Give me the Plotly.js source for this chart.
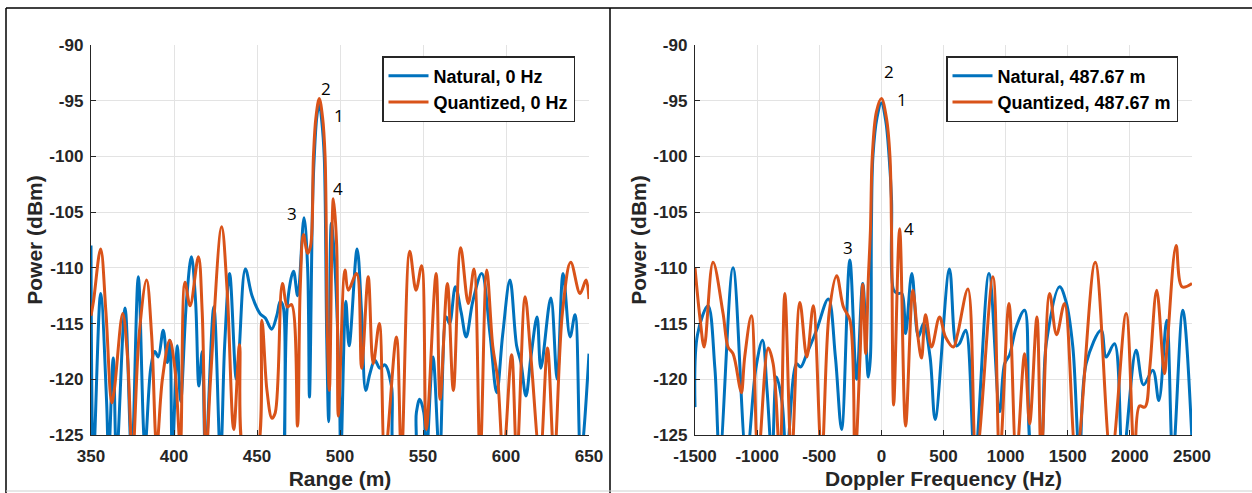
<!DOCTYPE html>
<html>
<head>
<meta charset="utf-8">
<script src="https://cdn.plot.ly/plotly-3.0.1.min.js"></script>
<style>html,body{margin:0;padding:0;background:#fff;}#chart{width:1252px;height:493px;}</style>
</head>
<body>
<div id="chart"></div>
<script>
// ---- Left panel: Power vs Range (0 Hz Doppler) ----
const rangeTicks = [350, 400, 450, 500, 550, 600, 650];
const powerTicks = [-90, -95, -100, -105, -110, -115, -120, -125];

const rangeNatX = [350,351.5,355.8,359.4,360.6,363.4,365.4,370.5,374.5,378.5,382.5,386,388.5,390.5,393.5,396,397.5,399,402,404,407.5,410.5,413,415,417,419,424,428,430.5,433.5,437.5,439,443,447,451.8,455,458.8,461.9,464,465.8,466.5,468.5,472,474.5,478.3,480.5,481.6,483.5,484.5,486,487.5,489,490.5,492,493.2,494.8,497,499.6,500.5,503.5,505.5,510.3,513,515.5,518,521,524,527,531,534,544,546,548,550.5,552,556,560,564,566,569.5,573,576,580,585.4,590.4,594.4,598,602.4,606.4,609,612,615,618.7,621,627,630.8,634.4,638.6,641.6,645,650];
const rangeNatY = [-108,-127,-112.3,-122,-127,-118.1,-127,-113.6,-127,-110.8,-126,-119,-117.5,-118,-115.6,-118.5,-116.5,-127,-117,-122,-113,-109,-113,-120.6,-117.5,-127,-113.5,-127,-117,-110.5,-120,-118,-110.1,-112.5,-114.1,-114.5,-115.5,-114.3,-113,-113.5,-127,-113,-110.3,-112.5,-105.5,-110,-121.6,-104,-100,-96.5,-95.2,-96.8,-100,-116.3,-123.8,-106,-110,-120.7,-127,-113,-117,-108.3,-114,-121,-119.5,-118.3,-119,-118.7,-120.6,-127,-127,-123,-121.8,-123,-127,-118,-127,-114.4,-115,-111.7,-114,-116.2,-113,-110.5,-116,-121.2,-116,-111.1,-117,-118.5,-121.5,-118,-114.4,-119,-112.7,-120,-110.5,-116.2,-114.2,-127,-117.7];

const rangeQuantX = [350,351.5,355.8,359,362.5,364,369.1,372,375,379,383.5,386.5,389.6,393,397.4,400.5,403.8,406.6,409.7,414.7,417,419.3,422,428.7,432,436,439.5,442.9,449,452.9,456,459,461,465.3,468.3,470.8,474.4,476,478,480.4,482.3,484,485.5,487.5,489.5,491,492.4,493.6,496,498,499,503,505,510,513,517,520,523.7,527,534,537,542,545.8,549.2,552,557.9,560.3,564.7,568.3,572.7,577.3,580.7,584.4,588.4,592,595,598.4,603.4,606.5,611.5,615,620.5,625,629,634,639,644.6,648.2,650];
const rangeQuantY = [-114.3,-113,-108.3,-114,-122.1,-121,-114.1,-118,-127,-116,-111.1,-116,-126,-120,-116.5,-119,-126,-111.3,-113.4,-109,-114,-127,-120,-106.3,-112,-124.5,-116.9,-127,-127,-114.7,-121,-123.5,-123,-111.4,-113.5,-113.3,-124.2,-112,-107,-108.7,-108,-100,-96.5,-94.8,-96.5,-100,-115.9,-121,-103.8,-108,-123.3,-110.2,-112,-110.5,-119,-110.8,-118.6,-115,-127,-116.2,-127,-108.5,-112,-109.8,-124.5,-110.5,-121.8,-111.4,-121,-108.2,-113.2,-110.1,-127,-110.2,-117,-120,-127,-117.8,-127,-112.6,-118,-127,-117.2,-127,-114,-109.5,-112.3,-111.1,-112.8];

// ---- Right panel: Power vs Doppler (487.67 m) ----
const dopTicks = [-1500, -1000, -500, 0, 500, 1000, 1500, 2000, 2500];

const dopNatX = [-1500,-1480,-1395,-1340,-1301,-1194,-1086,-1010,-957,-920,-880,-844,-800,-763,-683,-650,-600,-522,-427,-370,-320,-254,-199,-150,-105,-88,-80,-68,-35,0,35,62,82,99,131,165,195,245,298,339,392,433,548,604,628,679,751,866,952,992,1032,1086,1153,1220,1265,1327,1434,1488,1541,1595,1648,1769,1809,1876,1943,2050,2110,2185,2233,2297,2346,2426,2500];
const dopNatY = [-122.5,-116,-113.4,-119,-127,-110,-127,-119,-116.5,-121,-127,-119.8,-122,-127,-118.6,-118.9,-117.7,-115.6,-112.8,-118,-124.5,-109.3,-120,-111.4,-119.8,-118,-106,-100,-96.5,-95.2,-96.8,-100,-103.9,-112,-112.3,-112.3,-115.9,-110.5,-116.2,-115,-118,-123.6,-110.1,-117,-116.8,-115.6,-127,-110.5,-122.9,-118.6,-117.8,-115.3,-113.8,-127,-127,-116.8,-111.7,-113.1,-117.1,-127,-118.6,-115.6,-118,-116.8,-127,-117.4,-120.5,-119.2,-121.9,-114.7,-127,-113.8,-125.5];

const dopQuantX = [-1500,-1458,-1426,-1355,-1274,-1234,-1194,-1140,-1126,-1100,-1046,-992,-911,-871,-817,-777,-723,-656,-600,-548,-481,-420,-360,-306,-253,-212,-172,-150,-126,-105,-88,-73,-40,0,40,69,82,99,147,195,253,291,323,355,404,468,516,580,612,697,764,898,952,1027,1086,1153,1193,1252,1287,1354,1410,1474,1568,1721,1849,1970,2037,2077,2121,2160,2216,2278,2300,2372,2420,2500];
const dopQuantY = [-110,-114.7,-117.1,-109.5,-114.1,-117.1,-117.7,-120.7,-121.2,-118,-114.3,-127,-117.2,-118.6,-127,-112.3,-127,-113.1,-118,-113.4,-127,-114,-110.7,-113.5,-114.7,-127,-118,-111.5,-117.7,-111,-106.6,-100,-96,-94.8,-96.5,-100,-106.9,-122.3,-106.5,-124.2,-112,-115.9,-118.1,-114.2,-117.1,-114.4,-116.2,-117.1,-116,-111.9,-127,-110.8,-127,-113.2,-127,-117.7,-124,-114.4,-127,-112.3,-116,-113.2,-127,-109.5,-127,-114.1,-127,-122.4,-122.5,-119,-112,-119.5,-117,-108,-111.7,-111.4];

const seriesNames = ['Natural, 0 Hz', 'Quantized, 0 Hz', 'Natural, 487.67 m', 'Quantized, 487.67 m'];
const BLUE = '#0072BD', ORANGE = '#D95319';

const lineStyle = c => ({color: c, width: 3, shape: 'spline', smoothing: 1});

const traces = [
  {x: rangeNatX, y: rangeNatY, name: seriesNames[0], mode: 'lines', line: lineStyle(BLUE), xaxis: 'x', yaxis: 'y', legend: 'legend'},
  {x: rangeQuantX, y: rangeQuantY, name: seriesNames[1], mode: 'lines', line: lineStyle(ORANGE), xaxis: 'x', yaxis: 'y', legend: 'legend'},
  {x: dopNatX, y: dopNatY, name: seriesNames[2], mode: 'lines', line: lineStyle(BLUE), xaxis: 'x2', yaxis: 'y2', legend: 'legend2'},
  {x: dopQuantX, y: dopQuantY, name: seriesNames[3], mode: 'lines', line: lineStyle(ORANGE), xaxis: 'x2', yaxis: 'y2', legend: 'legend2'}
];

const W = 1252, H = 493;
const FONT = 'Liberation Sans, Arial, sans-serif';
const AX = '#262626';
const tickFont = {family: FONT, size: 17, weight: 'bold', color: AX};
const titleFont = {family: FONT, size: 21, weight: 'bold', color: AX};

function xAxis(dom, ticks, range, title) {
  return {domain: dom, range: range, tickvals: ticks, ticktext: ticks.map(String), showgrid: true, gridcolor: '#e3e3e3', gridwidth: 1,
    zeroline: false, showline: true, linecolor: AX, linewidth: 1.2, ticks: 'inside', ticklen: 5, tickcolor: AX, tickwidth: 1,
    tickfont: tickFont, ticklabelstandoff: 5, title: {text: title, font: titleFont, standoff: 6}, fixedrange: true};
}
function yAxis(anchor, ticks, title) {
  return {domain: [1 - 435 / H, 1 - 45 / H], range: [-125, -90], tickvals: ticks, ticktext: ticks.map(String), anchor: anchor,
    showgrid: true, gridcolor: '#e3e3e3', gridwidth: 1, zeroline: false, showline: true, linecolor: AX, linewidth: 1.2,
    ticks: 'inside', ticklen: 5, tickcolor: AX, tickwidth: 1, tickfont: tickFont, ticklabelstandoff: 3,
    title: {text: title, font: titleFont, standoff: 1}, fixedrange: true};
}

const legendBase = {xanchor: 'right', yanchor: 'top', bgcolor: '#ffffff', bordercolor: AX, borderwidth: 1.5,
  font: {family: FONT, size: 18, weight: 'bold', color: '#000'}, tracegroupgap: 0, itemwidth: 40};

const annFont = {family: 'Open Sans, sans-serif', size: 17, color: '#000'};
const ann = (x, y, t, xr, yr) => ({x: x, y: y, xref: xr, yref: yr, text: t, showarrow: false, font: annFont});

const line = (x0, y0, x1, y1, c, w) => ({type: 'line', xref: 'paper', yref: 'paper', x0: x0 / W, y0: 1 - y0 / H, x1: x1 / W, y1: 1 - y1 / H, line: {color: c, width: w}});

const layout = {
  width: W, height: H,
  margin: {l: 0, r: 0, t: 0, b: 0},
  paper_bgcolor: '#ffffff', plot_bgcolor: '#ffffff',
  showlegend: true,
  xaxis: xAxis([91 / W, 589 / W], rangeTicks, [350, 650], 'Range (m)'),
  yaxis: yAxis('x', powerTicks, 'Power (dBm)'),
  xaxis2: Object.assign(xAxis([695 / W, 1192 / W], dopTicks, [-1500, 2500], 'Doppler Frequency (Hz)'), {anchor: 'y2'}),
  yaxis2: yAxis('x2', powerTicks, 'Power (dBm)'),
  legend: Object.assign({}, legendBase, {x: 575 / W, y: 1 - 56 / H}),
  legend2: Object.assign({}, legendBase, {x: 1178 / W, y: 1 - 56 / H}),
  annotations: [
    ann(491.3, -93.9, '2', 'x', 'y'), ann(499.2, -96.3, '1', 'x', 'y'),
    ann(499, -102.9, '4', 'x', 'y'), ann(470.8, -105.1, '3', 'x', 'y'),
    ann(60, -92.4, '2', 'x2', 'y2'), ann(169, -94.85, '1', 'x2', 'y2'),
    ann(220, -106.45, '4', 'x2', 'y2'), ann(-269, -108.2, '3', 'x2', 'y2')
  ],
  shapes: [
    line(6, 8, W, 8, '#000', 1.5),
    line(6, 8, 6, H, '#000', 1.5),
    line(610, 8, 610, H, '#000', 1.5),
    line(6, 491, W, 491, '#cfcfcf', 1)
  ]
};
layout.xaxis.anchor = 'y';

Plotly.newPlot('chart', traces, layout, {displayModeBar: false, staticPlot: true});
</script>
</body>
</html>
